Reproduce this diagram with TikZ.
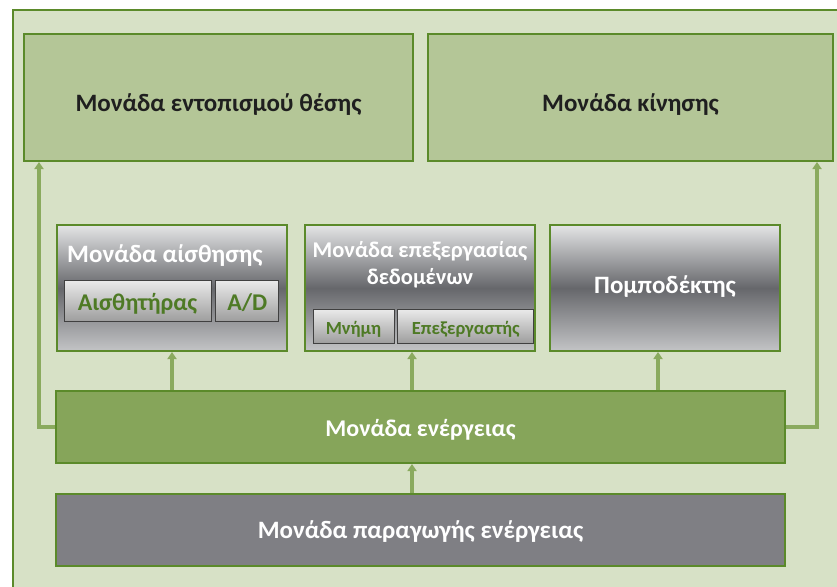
\documentclass[tikz,border=0pt]{standalone}
\usepackage{fontspec}
\setmainfont{Carlito}
\usepackage{xcolor}
\definecolor{framefill}{HTML}{D7E1C6}
\definecolor{framegreen}{HTML}{5B8A2A}
\definecolor{topfill}{HTML}{B4C697}
\definecolor{energyfill}{HTML}{86A55A}
\definecolor{genfill}{HTML}{7F7F84}
\definecolor{arrowgreen}{HTML}{8AAA5E}
\definecolor{darktext}{HTML}{1F1F1F}
\definecolor{subtext}{HTML}{4E7A25}
\definecolor{graytop}{HTML}{E4E5E6}
\definecolor{graymid}{HTML}{66676B}
\definecolor{graybot}{HTML}{C3C4C6}
\usetikzlibrary{arrows.meta, positioning}
\tikzset{
  topunit/.style  ={rectangle, draw=framegreen, line width=2pt, fill=topfill, text=darktext,
                    align=center, minimum height=127pt, text height=27pt, text depth=0pt,
                    font=\fontsize{25}{30}\selectfont\bfseries},
  grayunit/.style ={rectangle, draw=framegreen, line width=2pt, top color=graytop, bottom color=graybot,
                    middle color=graymid, minimum width=230pt, minimum height=126pt},
  graytitle/.style={text=white, align=center, inner sep=0pt, font=\fontsize{25}{27}\selectfont\bfseries},
  subunit/.style  ={rectangle, draw=black!75, line width=0.8pt, top color=white!92!black, bottom color=black!38,
                    text=subtext, align=center, inner sep=0pt, text depth=0pt,
                    font=\fontsize{24}{28}\selectfont\bfseries},
  energyunit/.style={rectangle, draw=framegreen, line width=2pt, fill=energyfill, text=white,
                    minimum width=729pt, minimum height=72pt, font=\fontsize{24}{28}\selectfont\bfseries},
  genunit/.style  ={rectangle, draw=framegreen, line width=2pt, fill=genfill, text=white,
                    minimum width=729pt, minimum height=72pt, font=\fontsize{25}{30}\selectfont\bfseries},
  parr/.style     ={-{Triangle[length=7pt, width=9pt]}, line width=3.5pt, color=arrowgreen},
}
\begin{document}
\begin{tikzpicture}[x=1pt, y=-1pt]
  \clip (0,0) rectangle (837,586);
  \fill[white] (0,0) rectangle (837,586);
  \draw[draw=framegreen, fill=framefill, line width=2.5pt] (13,10) rectangle (870,620);

  % upper units
  \node[topunit, minimum width=389pt] (pos) at (218.5,97.5) {Μονάδα εντοπισμού θέσης};
  \node[topunit, minimum width=405pt] (move) at (630.5,97.5) {Μονάδα κίνησης};

  % middle units
  \node[grayunit] (sense) at (172,288) {};
  \node[graytitle, anchor=base west] (senset) at (67,262.5) {Μονάδα αίσθησης};
  \node[subunit, minimum width=147pt, minimum height=41pt, text height=20pt] (sensor) at (137.5,300.5) {Αισθητήρας};
  \node[subunit, minimum width=63pt, minimum height=41pt, text height=20pt, right=4pt of sensor] (adc) {A/D};

  \node[grayunit] (proc) at (419.5,288) {};
  \node[graytitle, font=\fontsize{22.5}{27}\selectfont\bfseries] (proct) at (420,265) {Μονάδα επεξεργασίας\\δεδομένων};
  \node[subunit, minimum width=81pt, minimum height=34pt, text height=16pt, font=\fontsize{18.5}{22}\selectfont\bfseries] (mem) at (353.5,326) {Μνήμη};
  \node[subunit, minimum width=136pt, minimum height=34pt, text height=16pt, font=\fontsize{18.5}{22}\selectfont\bfseries, right=3pt of mem] (cpu) {Επεξεργαστής};

  \node[grayunit, font=\fontsize{25}{30}\selectfont\bfseries, text=white, text height=10pt, text depth=0pt] (trans) at (665,288) {Πομποδέκτης};

  % energy
  \node[energyunit, text height=18pt, text depth=0pt] (energy) at (420.5,427) {Μονάδα ενέργειας};
  \node[genunit, text height=16pt, text depth=0pt] (gen) at (420.5,530) {Μονάδα παραγωγής ενέργειας};

  \draw[parr] (gen.north -| 412,0) -- (energy.south -| 412,0);
  \draw[parr] (sense.south |- energy.north) -- (sense.south);
  \draw[parr] (energy.north -| 412,0) -- (proc.south -| 412,0);
  \draw[parr] (energy.north -| 658,0) -- (trans.south -| 658,0);
  \draw[parr] (energy.west) -| ([xshift=16pt]pos.south west);
  \draw[parr] (energy.east) -| ([xshift=-17pt]move.south east);
\end{tikzpicture}
\end{document}
